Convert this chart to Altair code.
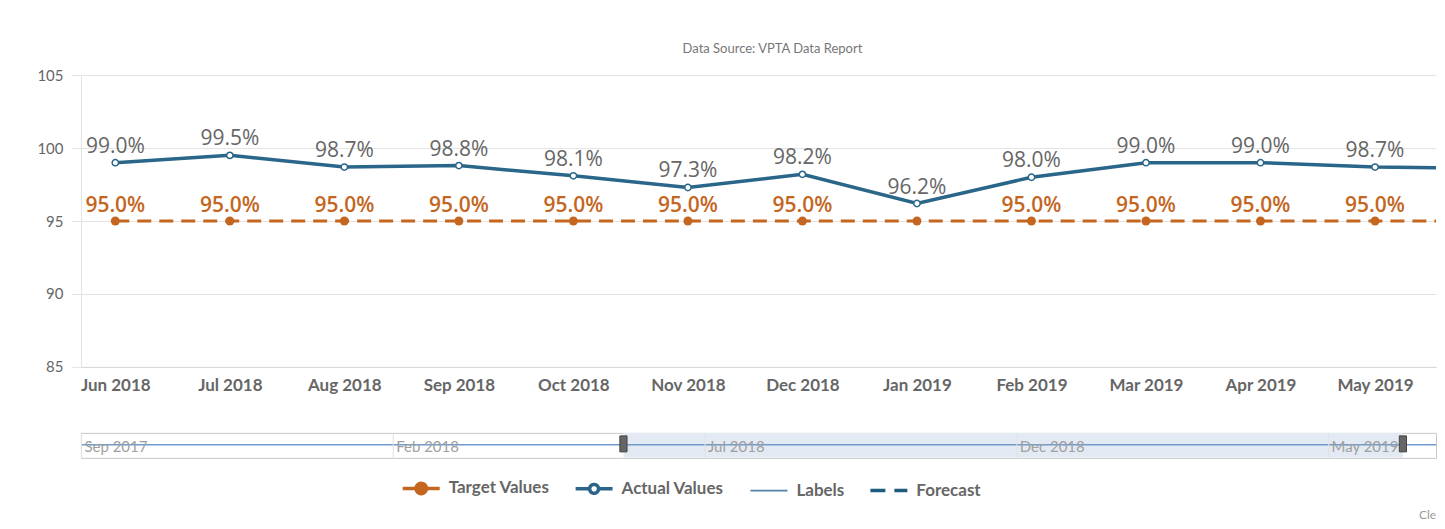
import json
import altair as alt
import pandas as pd

# ---------------- data ----------------
months = ["Jun 2018", "Jul 2018", "Aug 2018", "Sep 2018", "Oct 2018", "Nov 2018",
          "Dec 2018", "Jan 2019", "Feb 2019", "Mar 2019", "Apr 2019", "May 2019",
          "Jun 2019"]
actual = [99.0, 99.5, 98.7, 98.8, 98.1, 97.3, 98.2, 96.2, 98.0, 99.0, 99.0, 98.7, 98.6]
target = [95.0, 95.0, 95.0, 95.0, 95.0, 95.0, 95.0, 95.0, 95.0, 95.0, 95.0, 95.0, 95.0]
tick_labels = ["Jun 2018", "Jul 2018", "Aug 2018", "Sep 2018", "Oct 2018", "Nov 2018",
               "Dec 2018", "Jan 2019", "Feb 2019", "Mar 2019", "Apr 2019", "May 2019"]
y_ticks = [85, 90, 95, 100, 105]

legend_names = ["Target Values", "Actual Values", "Labels", "Forecast"]

nav_months = ["Sep 2017", "Oct 2017", "Nov 2017", "Dec 2017", "Jan 2018", "Feb 2018",
              "Mar 2018", "Apr 2018", "May 2018", "Jun 2018", "Jul 2018", "Aug 2018",
              "Sep 2018", "Oct 2018", "Nov 2018", "Dec 2018", "Jan 2019", "Feb 2019",
              "Mar 2019", "Apr 2019", "May 2019", "Jun 2019", "Jul 2019"]
nav_values = [52, 52, 52, 52, 52, 52, 52, 52, 52, 52, 52, 52,
              52, 52, 52, 52, 52, 52, 52, 52, 52, 52, 52]
nav_tick_labels = ["Sep 2017", "Feb 2018", "Jul 2018", "Dec 2018", "May 2019"]
nav_selection = [-0.3, 12.2]      # selected range, in months from Jun 2018

# ---------------- styles ----------------
BLUE = "#2a6689"
ORANGE = "#c4661f"
LBL_BLUE = "#4f82ab"
FC_BLUE = "#1f5b7c"
W = 1356
H = 292
NAV_H = 25
GAP = 66
MAIN_STEP = 114.6   # px per month, main chart
NAV_STEP = 62.4     # px per month, navigator

x_domain = [-0.3, -0.3 + W / MAIN_STEP]   # visible range of the main chart
offset_jun18 = nav_months.index("Jun 2018")
nav_tick_pos = [nav_months.index(l) - offset_jun18 for l in nav_tick_labels]
nav_domain = [-offset_jun18, -offset_jun18 + W / NAV_STEP]

df = pd.DataFrame({"i": list(range(len(months))), "month": months,
                   "actual": actual, "target": target})
visible = "datum.i <= %s" % x_domain[1]

# legend symbols (paths in unit square -1..1)
P_DOT = "M-1,0H-0.28M0.28,0H1M0.28,0A0.28,0.28,0,1,1,-0.28,0A0.28,0.28,0,1,1,0.28,0"
P_RING = "M-1,0H-0.24M0.24,0H1M0.24,0A0.24,0.24,0,1,1,-0.24,0A0.24,0.24,0,1,1,0.24,0"
P_THIN = "M-1,-0.045H1V0.045H-1Z"
P_LINE = "M-1,0H1"

leg = alt.Legend(
    title=None, orient="none", legendX=320, legendY=393, direction="horizontal",
    columns=4, columnPadding=19, labelOffset=7, symbolSize=1369, symbolStrokeWidth=3.5,
    labelFont="Lato", labelFontSize=17, labelFontWeight="bold", labelColor="#666")

x_enc = alt.X(
    "i:Q",
    scale=alt.Scale(domain=x_domain, nice=False, zero=False),
    axis=alt.Axis(values=list(range(len(tick_labels))),
                  labelExpr="%s[datum.value]" % json.dumps(tick_labels),
                  title=None, grid=False, ticks=False, domain=True, domainColor="#d8d8d8",
                  labelFont="Lato", labelFontSize=17, labelFontWeight="bold",
                  labelColor="#666", labelPadding=11, labelOverlap=False),
)
y_scale = alt.Scale(domain=[85, 105], nice=False, zero=False)
y_axis = alt.Axis(values=y_ticks, title=None, grid=True, gridColor="#e3e3e3",
                  domain=True, domainColor="#e3e3e3", ticks=True, tickColor="#e3e3e3",
                  tickSize=10, labelPadding=8, labelFont="Lato", labelFontSize=15,
                  labelColor="#666")

base = alt.Chart(df)
target_line = base.mark_line(color=ORANGE, strokeWidth=3, strokeDash=[14, 8], clip=True).encode(
    x=x_enc, y=alt.Y("target:Q", scale=y_scale, axis=y_axis))
actual_line = base.mark_line(color=BLUE, strokeWidth=3.5, clip=True).encode(
    x=x_enc, y=alt.Y("actual:Q", scale=y_scale, axis=y_axis))
target_pts = base.transform_filter(visible).mark_point(
    filled=True, fill=ORANGE, size=80, opacity=1, clip=True).encode(
    x=x_enc, y=alt.Y("target:Q", scale=y_scale, axis=y_axis))
actual_pts = base.transform_filter(visible).mark_point(
    filled=True, fill="white", stroke=BLUE, strokeWidth=1.5,
    size=40, opacity=1, clip=True).encode(
    x=x_enc, y=alt.Y("actual:Q", scale=y_scale, axis=y_axis))
target_lbl = base.transform_filter(visible).transform_filter(
    "datum.actual - datum.target > 1.5").transform_calculate(
    lbl="format(datum.target, '.1f') + '%'").mark_text(
    font="Open Sans", fontSize=21, fontWeight=600, color=ORANGE, baseline="alphabetic",
    dy=-9, clip=True).encode(
    x=x_enc, y=alt.Y("target:Q", scale=y_scale, axis=y_axis), text="lbl:N")
actual_lbl = base.transform_filter(visible).transform_calculate(
    lbl="format(datum.actual, '.1f') + '%'").mark_text(
    font="Open Sans", fontSize=21, color="#666", baseline="alphabetic",
    dy=-10, clip=True).encode(
    x=x_enc, y=alt.Y("actual:Q", scale=y_scale, axis=y_axis), text="lbl:N")

# legend-only layer (no marks drawn; scales carry the legend)
leg_df = pd.DataFrame({"name": legend_names})
legend_layer = alt.Chart(leg_df).transform_filter("false").mark_point(
    opacity=1, size=1369, strokeWidth=3.5).encode(
    stroke=alt.Stroke("name:N", scale=alt.Scale(domain=legend_names,
                      range=[ORANGE, BLUE, "transparent", FC_BLUE]), legend=leg),
    fill=alt.Fill("name:N", scale=alt.Scale(domain=legend_names,
                  range=[ORANGE, "white", LBL_BLUE, "transparent"]), legend=leg),
    shape=alt.Shape("name:N", scale=alt.Scale(domain=legend_names,
                    range=[P_DOT, P_RING, P_THIN, P_LINE]), legend=leg),
    strokeDash=alt.StrokeDash("name:N", scale=alt.Scale(domain=legend_names,
                              range=[[1, 0], [1, 0], [1, 0], [15, 9]]), legend=leg),
)

cle = alt.Chart(pd.DataFrame({"t": ["Cle"]})).mark_text(
    font="Lato", fontSize=12, color="#999", align="left", baseline="middle").encode(
    x=alt.value(1339), y=alt.value(440), text="t:N")

main = alt.layer(target_line, actual_line, target_pts, actual_pts, target_lbl,
                 actual_lbl, legend_layer, cle).properties(
    width=W, height=H,
    title=alt.TitleParams("Data Source: VPTA Data Report", font="Lato", fontSize=13,
                          fontWeight="normal", color="#777", anchor="middle",
                          frame="group", offset=12, dx=14))

# ---------------- navigator ----------------
nav_df = pd.DataFrame({"i": [k - offset_jun18 for k in range(len(nav_months))],
                       "v": nav_values})
sel_df = pd.DataFrame({"start": [nav_selection[0]], "end": [nav_selection[1]]})
handle_df = pd.DataFrame({"h": nav_selection})

nav_scale = alt.Scale(domain=nav_domain, nice=False, zero=False)
nav_axis = alt.Axis(values=nav_tick_pos,
                    labelExpr="%s[indexof(%s, datum.value)]" % (json.dumps(nav_tick_labels),
                                                                json.dumps(nav_tick_pos)),
                    title=None, grid=True, gridColor="#e2e2e2", ticks=False, domain=False,
                    labelAlign="left", labelBaseline="middle", labelPadding=-11,
                    labelOffset=3, labelFont="Lato", labelFontSize=15, labelColor="#a0a0a0",
                    labelFlush=False, labelOverlap=False, zindex=1)

sel_rect = alt.Chart(sel_df).mark_rect(color="#e4eaf3", opacity=1, clip=True).encode(
    x=alt.X("start:Q", scale=nav_scale, axis=nav_axis), x2="end:Q",
    y=alt.value(0), y2=alt.value(NAV_H))
nav_line = alt.Chart(nav_df).mark_line(color="#6f9ccc", strokeWidth=1.5, clip=True).encode(
    x=alt.X("i:Q", scale=nav_scale, axis=nav_axis),
    y=alt.Y("v:Q", scale=alt.Scale(domain=[0, 100]), axis=None))
handles = alt.Chart(handle_df).mark_point(
    shape="M-0.45,-1H0.45V1H-0.45Z", filled=True, fill="#666", stroke="#444",
    strokeWidth=1, size=256, opacity=1).encode(
    x=alt.X("h:Q", scale=nav_scale, axis=nav_axis), y=alt.value(11))

nav = alt.layer(sel_rect, nav_line, handles).properties(
    width=W, height=NAV_H, view=alt.ViewBackground(stroke="#c8c8c8", strokeWidth=1))

chart = alt.vconcat(main, nav, spacing=GAP, bounds="flush").resolve_scale(
    stroke="independent", fill="independent", shape="independent",
    strokeDash="independent").properties(
    padding={"left": 28, "top": 35, "right": 0, "bottom": 0}).configure(
    font="Lato").configure_view(strokeWidth=0)

chart.save("out.html", embed_options={"renderer": "svg", "actions": False})
